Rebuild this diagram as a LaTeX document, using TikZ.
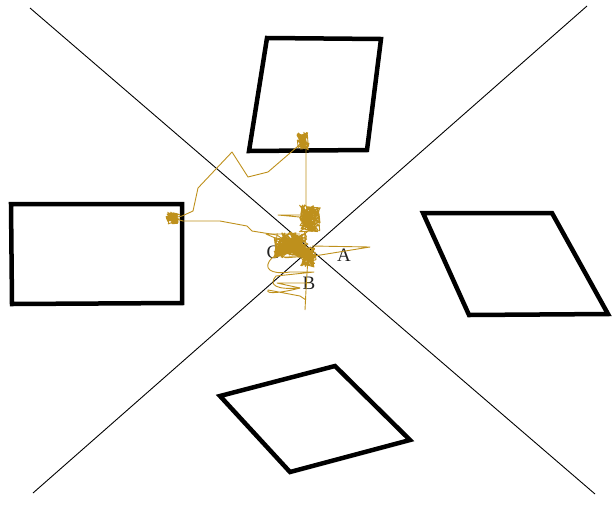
\documentclass[tikz,border=0pt]{standalone}
\usepackage{fontspec}
\setmainfont{Liberation Serif}
\usetikzlibrary{calc}
\definecolor{cWalk}{HTML}{BE901C}
\definecolor{cLbl}{HTML}{222222}

% a dense scribble of random steps round a point
\newcommand{\walkblob}[4]{% centre, steps, spread x, spread y
  \draw[walk] (#1) \foreach \k in {1,...,#2}{ -- ($(#1)+({rand*#3},{rand*#4})$) };
}

\begin{document}
\begin{tikzpicture}[x=1pt, y=-1pt,
  cell/.style={draw=black, line width=4.5pt, line join=miter},
  axis/.style={draw=black, line width=0.9pt},
  walk/.style={draw=cWalk, line width=0.9pt, line join=round},
  lbl/.style={font=\fontsize{19}{19}\selectfont, text=cLbl, inner sep=0pt}
]
\useasboundingbox (0,0) rectangle (612,504);
\pgfmathsetseed{42}

% crossing lines
\coordinate (nw) at (30,8);
\coordinate (se) at (595,494);
\coordinate (ne) at (587,6);
\coordinate (sw) at (33,493);
\draw[axis] (nw) -- (se);
\draw[axis] (ne) -- (sw);

% the four boxes
\draw[cell] (267,38) -- (381,39) -- (367,150) -- (249,151) -- cycle;
\draw[cell] (11,204) -- (182,204) -- (182,303) -- (12,304) -- cycle;
\draw[cell] (423,213) -- (552,213) -- (608,314) -- (469,315) -- cycle;
\draw[cell] (220,396) -- (335,366) -- (410,440) -- (290,472) -- cycle;

% labels
\node[lbl] (labA) at (344,255) {A};
\node[lbl] (labB) at (309,283) {B};
\node[lbl] (labC) at (273,252) {C};

% walk clusters
\coordinate (wLeft) at (173,218);
\coordinate (wTop) at (303,141);
\coordinate (wMid) at (310,218);
\coordinate (wCen) at (291,245);
\coordinate (wLow) at (308,257);
\walkblob{wLeft}{60}{7}{6}
\walkblob{wTop}{60}{6}{9}
\walkblob{wMid}{120}{11}{14}
\walkblob{wCen}{180}{17}{13}
\walkblob{wLow}{80}{8}{10}

% walk legs
\draw[walk] (wLeft) -- (182,216) -- (193,211) -- (198,188) -- (232,152)
  -- (248,177) -- (268,172) -- (297,147) -- (wTop);
\draw[walk] (wLeft) -- (183,221) -- (220,221) -- (247,226) -- (252,231)
  -- (277,235) -- (wCen);
\draw[walk] (wTop) -- (306,147) -- (306,206) -- (wMid);
\draw[walk] (wMid) -- (278,215) -- (307,215);
\draw[walk] (wCen) -- (266,234) -- (300,234);
\draw[walk] (wLow) -- (370,247) -- (312,246);
\draw[walk] (wCen) -- (272,258) .. controls (262,268) and (270,275) .. (290,272)
  -- (314,272) -- (276,276) .. controls (268,285) and (276,290) .. (300,288)
  -- (277,283) -- (310,283);
\draw[walk] (wLow) -- (306,290) -- (305,310);
\draw[walk] (300,288) .. controls (285,292) and (265,295) .. (268,290)
  -- (300,296) -- (306,300);
\end{tikzpicture}
\end{document}
